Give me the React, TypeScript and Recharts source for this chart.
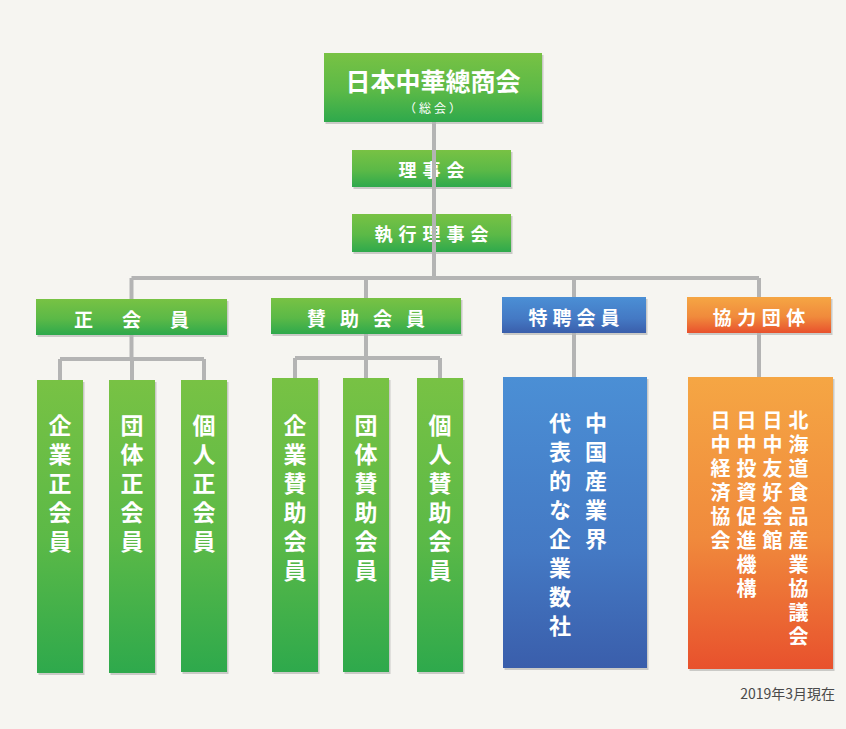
import React from 'react';
import { ComposedChart, XAxis, YAxis, ReferenceArea, ReferenceLine } from 'recharts';

const W = 846;
const H = 729;

// labels
const headNodes = ['日本中華總商会', '理事会', '執行理事会'];
const headNote = '（総会）';
const memberTypes = ['正会員', '賛助会員', '特聘会員', '協力団体'];
const regularMembers = ['企業正会員', '団体正会員', '個人正会員'];
const supportingMembers = ['企業賛助会員', '団体賛助会員', '個人賛助会員'];
const specialMembers = ['中国産業界', '代表的な企業数社'];
const partnerOrgs = ['北海道食品産業協議会', '日中友好会館', '日中投資促進機構', '日中経済協会'];
const asOfLabel = '2019年3月現在';

// layout, [x1, x2, y1, y2] in page px
type Box = [number, number, number, number];
const headBoxes: Box[] = [[324, 542, 53, 122], [352, 511, 150, 187], [352, 511, 214, 252]];
const typeBoxes: Box[] = [[36, 227, 299, 335], [271, 461, 298, 334], [502, 646, 297, 333], [687, 831, 297, 333]];
const typeStep = [48, 33, 24, 24.5];
const regularBoxes: Box[] = [[37, 83, 380, 673], [109, 155, 380, 673], [181, 227, 380, 672]];
const supportBoxes: Box[] = [[272, 318, 378, 672], [343, 389, 378, 672], [417, 463, 378, 672]];
const specialBox: Box = [503, 647, 377, 668];
const partnerBox: Box = [688, 833, 377, 669];
const busY = 278;
const subBusY = [359, 358];

const FONT = '"Noto Sans CJK JP", "Noto Sans", sans-serif';
const LINE = '#b4b4b4';
const cx = (b: Box) => (b[0] + b[1]) / 2;
const fills = ['url(#gGreen)', 'url(#gGreen)', 'url(#gBlue)', 'url(#gOrange)'];

// one text per label, chars spaced by `step`
const hText = (label: string, x: number, y: number, size: number, step: number) => {
  const gap = step - size;
  return (
    <text x={x + gap / 2} y={y} fill="#fff" fontSize={size} fontWeight={700} fontFamily={FONT}
      textAnchor="middle" dominantBaseline="central" style={{ letterSpacing: gap }}>{label}</text>
  );
};

// vertical column; `first` is the centre of the first char
const vText = (label: string, x: number, first: number, size: number, step: number) => (
  <text x={x} y={first - size / 2} fill="#fff" fontSize={size} fontWeight={700} fontFamily={FONT}
    style={{ writingMode: 'vertical-rl', textOrientation: 'upright', letterSpacing: step - size } as any}>{label}</text>
);

const boxShape = (fill: string, content: (r: { x: number; y: number; width: number; height: number }) => React.ReactNode) =>
  (props: any) => {
    const { x, y, width, height } = props;
    return (
      <g>
        <rect x={x + 1.5} y={y + 2} width={width} height={height} fill="rgba(90,90,90,0.28)" />
        <rect x={x} y={y} width={width} height={height} fill={fill} />
        {content({ x, y, width, height })}
      </g>
    );
  };

const area = (key: string, b: Box, shape: any) => (
  <ReferenceArea key={key} x1={b[0]} x2={b[1]} y1={b[2]} y2={b[3]} shape={shape} ifOverflow="visible" />
);

const seg = (key: string, x1: number, y1: number, x2: number, y2: number) => (
  <ReferenceLine key={key} segment={[{ x: x1, y: y1 }, { x: x2, y: y2 }]} stroke={LINE} strokeWidth={4} ifOverflow="visible" />
);

export default function App() {
  const lines: React.ReactNode[] = [];
  const tx = headBoxes.map(cx)[0] + 1;
  lines.push(seg('trunk', tx, headBoxes[0][3], tx, busY));
  const dropXs = typeBoxes.map(cx);
  lines.push(seg('bus', dropXs[0], busY, dropXs[3], busY));
  dropXs.forEach((x, i) => lines.push(seg('d' + i, x, busY, x, typeBoxes[i][2])));
  [regularBoxes, supportBoxes].forEach((group, g) => {
    const px = dropXs[g];
    const by = subBusY[g];
    const xs = group.map(cx);
    lines.push(seg('s' + g, px, typeBoxes[g][3], px, by));
    lines.push(seg('sb' + g, xs[0], by, xs[xs.length - 1], by));
    xs.forEach((x, i) => lines.push(seg('sd' + g + i, x, by, x, group[i][2])));
  });
  lines.push(seg('sp', dropXs[2], typeBoxes[2][3], dropXs[2], specialBox[2]));
  lines.push(seg('pt', dropXs[3], typeBoxes[3][3], dropXs[3], partnerBox[2]));

  const boxes: React.ReactNode[] = [];
  headBoxes.forEach((b, i) => {
    boxes.push(area('h' + i, b, boxShape('url(#gGreen)', (r) => (
      i === 0 ? (
        <g>
          {hText(headNodes[0], r.x + r.width / 2, r.y + 27, 25, 25)}
          <text x={r.x + r.width / 2 + 1} y={r.y + 54} fill="#fff" fontSize={12} fontFamily={FONT}
            textAnchor="middle" dominantBaseline="central" style={{ letterSpacing: 3 }}>{headNote}</text>
        </g>
      ) : hText(headNodes[i], r.x + r.width / 2, r.y + r.height / 2, 18, 24)
    ))));
  });
  typeBoxes.forEach((b, i) => {
    boxes.push(area('t' + i, b, boxShape(fills[i], (r) =>
      hText(memberTypes[i], r.x + r.width / 2, r.y + r.height / 2 + 1, 19, typeStep[i]))));
  });
  regularBoxes.forEach((b, i) => {
    boxes.push(area('r' + i, b, boxShape('url(#gGreen)', (r) =>
      vText(regularMembers[i], r.x + r.width / 2, r.y + 45, 23, 29))));
  });
  supportBoxes.forEach((b, i) => {
    boxes.push(area('s' + i, b, boxShape('url(#gGreen)', (r) =>
      vText(supportingMembers[i], r.x + r.width / 2, r.y + 47, 23, 29))));
  });
  boxes.push(area('sp', specialBox, boxShape('url(#gBlue)', (r) => (
    <g>{specialMembers.map((s, i) => <g key={i}>{vText(s, r.x + r.width / 2 + 21 - i * 36, r.y + 46, 22, 29)}</g>)}</g>
  ))));
  boxes.push(area('pt', partnerBox, boxShape('url(#gOrange)', (r) => (
    <g>{partnerOrgs.map((s, i) => <g key={i}>{vText(s, r.x + r.width / 2 + 38 - i * 26, r.y + 43, 20, 24)}</g>)}</g>
  ))));

  return (
    <div style={{ position: 'absolute', left: 0, top: 0, width: W, height: H, background: '#f6f5f1' }}>
      <svg width={0} height={0} style={{ position: 'absolute' }}>
        <defs>
          <linearGradient id="gGreen" x1="0" y1="0" x2="0" y2="1">
            <stop offset="0%" stopColor="#78c244" />
            <stop offset="55%" stopColor="#5bb947" />
            <stop offset="100%" stopColor="#2ea94c" />
          </linearGradient>
          <linearGradient id="gBlue" x1="0" y1="0" x2="0" y2="1">
            <stop offset="0%" stopColor="#4b8fd5" />
            <stop offset="60%" stopColor="#4479c4" />
            <stop offset="100%" stopColor="#3a5eab" />
          </linearGradient>
          <linearGradient id="gOrange" x1="0" y1="0" x2="0" y2="1">
            <stop offset="0%" stopColor="#f5a644" />
            <stop offset="55%" stopColor="#f08a3c" />
            <stop offset="100%" stopColor="#e8512d" />
          </linearGradient>
        </defs>
      </svg>
      <ComposedChart width={W} height={H} data={[]} margin={{ top: 0, right: 0, bottom: 0, left: 0 }}>
        <XAxis type="number" dataKey="x" domain={[0, W]} hide allowDataOverflow />
        <YAxis type="number" dataKey="y" domain={[0, H]} reversed hide allowDataOverflow />
        {lines}
        {boxes}
      </ComposedChart>
      <div style={{ position: 'absolute', right: 11, top: 683, fontFamily: FONT, fontSize: 14, color: '#4a4a4a' }}>
        {asOfLabel}
      </div>
    </div>
  );
}
